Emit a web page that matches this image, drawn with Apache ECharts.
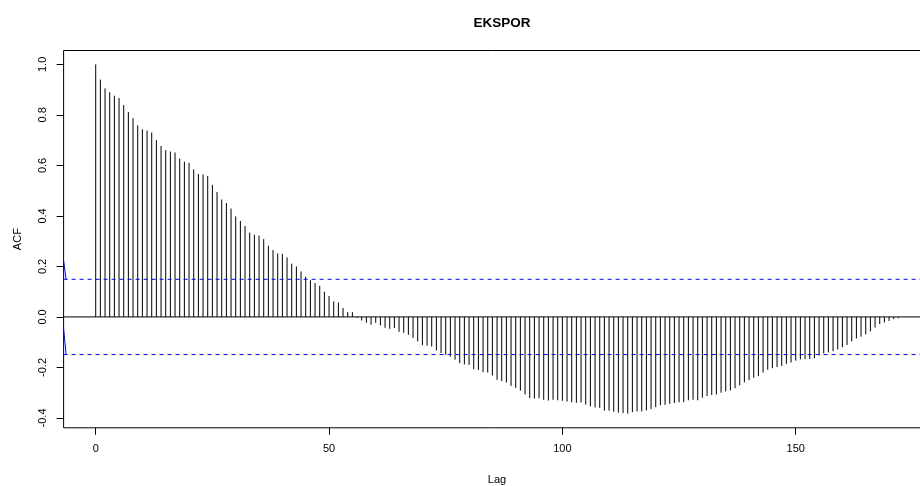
<!DOCTYPE html>
<html><head><meta charset="utf-8">
<script src="https://cdn.jsdelivr.net/npm/echarts@6/dist/echarts.min.js"></script>
<style>html,body{margin:0;padding:0;background:#fff}#c{width:920px;height:486px}</style>
</head><body><div id="c"></div>
<script>
const lags = [
0,1,2,3,4,5,6,7,8,9,10,11,12,13,14,15,16,17,18,19,
20,21,22,23,24,25,26,27,28,29,30,31,32,33,34,35,36,37,38,39,
40,41,42,43,44,45,46,47,48,49,50,51,52,53,54,55,56,57,58,59,
60,61,62,63,64,65,66,67,68,69,70,71,72,73,74,75,76,77,78,79,
80,81,82,83,84,85,86,87,88,89,90,91,92,93,94,95,96,97,98,99,
100,101,102,103,104,105,106,107,108,109,110,111,112,113,114,115,116,117,118,119,
120,121,122,123,124,125,126,127,128,129,130,131,132,133,134,135,136,137,138,139,
140,141,142,143,144,145,146,147,148,149,150,151,152,153,154,155,156,157,158,159,
160,161,162,163,164,165,166,167,168,169,170,171,172];
const acfValues = [
1.000,0.940,0.905,0.890,0.876,0.867,0.839,0.811,0.787,0.759,
0.743,0.738,0.730,0.700,0.677,0.660,0.655,0.651,0.627,0.615,
0.610,0.584,0.566,0.564,0.558,0.523,0.495,0.465,0.451,0.429,
0.398,0.380,0.360,0.334,0.325,0.322,0.308,0.282,0.265,0.251,
0.250,0.236,0.211,0.200,0.180,0.159,0.145,0.134,0.123,0.100,
0.083,0.061,0.057,0.035,0.019,0.019,-0.004,-0.014,-0.023,-0.031,
-0.023,-0.034,-0.043,-0.047,-0.044,-0.059,-0.063,-0.071,-0.083,-0.097,
-0.112,-0.114,-0.117,-0.133,-0.143,-0.150,-0.157,-0.169,-0.183,-0.188,
-0.190,-0.207,-0.210,-0.219,-0.220,-0.232,-0.249,-0.254,-0.260,-0.273,
-0.281,-0.292,-0.307,-0.321,-0.323,-0.322,-0.328,-0.331,-0.328,-0.330,
-0.332,-0.335,-0.338,-0.340,-0.339,-0.347,-0.354,-0.358,-0.360,-0.371,
-0.371,-0.375,-0.379,-0.381,-0.383,-0.377,-0.374,-0.374,-0.370,-0.365,
-0.357,-0.350,-0.348,-0.344,-0.341,-0.338,-0.337,-0.330,-0.328,-0.330,
-0.320,-0.313,-0.309,-0.307,-0.300,-0.295,-0.291,-0.282,-0.271,-0.259,
-0.250,-0.241,-0.234,-0.220,-0.209,-0.203,-0.198,-0.194,-0.186,-0.180,
-0.173,-0.168,-0.167,-0.167,-0.164,-0.152,-0.144,-0.140,-0.136,-0.129,
-0.120,-0.111,-0.097,-0.085,-0.078,-0.069,-0.057,-0.042,-0.028,-0.022,
-0.016,-0.009,-0.005];
const ciLimit = 0.149;
const ciLines = [ciLimit, -ciLimit];
const zeroLine = [0];
const xTicks = [0, 50, 100, 150];
const yTicks = [-0.4, -0.2, 0.0, 0.2, 0.4, 0.6, 0.8, 1.0];
const xRange = [-6.88, 178.88];
const yRange = [-0.439, 1.055];
const edgeUpper = [[-6.88, 0.223], [-6.35, 0.149]];
const edgeLower = [[-6.88, -0.045], [-6.35, -0.149]];

const FONT = 'Liberation Sans, Arial, sans-serif';
const chart = echarts.init(document.getElementById('c'), null, {renderer: 'canvas'});
const barData = lags.map((l, i) => [l, acfValues[i]]);

function hLineSeries(values, stroke, dash) {
  return {
    type: 'custom', silent: true, clip: true,
    data: values.map(v => [0, v]),
    encode: {x: 0, y: 1},
    renderItem: function (params, api) {
      const cs = params.coordSys;
      const y = api.coord([0, api.value(1)])[1];
      return {type: 'line', shape: {x1: cs.x, y1: y, x2: cs.x + cs.width, y2: y},
        style: {stroke: stroke, lineWidth: 1, lineDash: dash}};
    }
  };
}

chart.setOption({
  animation: false,
  backgroundColor: '#fff',
  title: {
    text: 'EKSPOR', left: 497, top: 11, textAlign: 'center',
    textStyle: {fontFamily: FONT, fontSize: 13.5, fontWeight: 'bold', color: '#000'}
  },
  grid: {
    left: 63.6, top: 50.5, width: 866.9, height: 377.3,
    outerBoundsMode: 'none', containLabel: false,
    show: true, borderColor: '#000', borderWidth: 1, backgroundColor: 'transparent'
  },
  xAxis: {
    type: 'value', min: xRange[0], max: xRange[1],
    name: 'Lag', nameLocation: 'middle', nameGap: 47,
    nameTextStyle: {fontFamily: FONT, fontSize: 11, color: '#000'},
    axisLine: {show: false, onZero: false},
    splitLine: {show: false},
    axisTick: {show: true, length: 7, inside: false, customValues: xTicks, lineStyle: {color: '#000', width: 1}},
    axisLabel: {show: true, customValues: xTicks, margin: 16, fontFamily: FONT, fontSize: 11, color: '#000',
      formatter: v => String(v)}
  },
  yAxis: {
    type: 'value', min: yRange[0], max: yRange[1],
    name: 'ACF', nameLocation: 'middle', nameGap: 40,
    nameTextStyle: {fontFamily: FONT, fontSize: 11, color: '#000'},
    axisLine: {show: false, onZero: false},
    splitLine: {show: false},
    axisTick: {show: true, length: 7, inside: false, customValues: yTicks, lineStyle: {color: '#000', width: 1}},
    axisLabel: {show: true, customValues: yTicks, rotate: 90, margin: 15, fontFamily: FONT, fontSize: 11, color: '#000',
      formatter: v => Number(v).toFixed(1)}
  },
  series: [
    {
      type: 'custom',
      data: barData,
      encode: {x: 0, y: 1},
      clip: true,
      z: 2,
      renderItem: function (params, api) {
        const x = api.value(0), y = api.value(1);
        const p0 = api.coord([x, 0]);
        const p1 = api.coord([x, y]);
        return {type: 'line', shape: {x1: p0[0], y1: p0[1], x2: p1[0], y2: p1[1]},
          style: {stroke: '#000', lineWidth: 1}};
      }
    },
    Object.assign(hLineSeries(zeroLine, '#000000', null), {z: 3}),
    Object.assign(hLineSeries(ciLines, '#0000ff', [4, 4]), {z: 4}),
    {type: 'line', data: edgeUpper, symbol: 'none', lineStyle: {color: '#0000ff', width: 1}, silent: true, clip: true, z: 4},
    {type: 'line', data: edgeLower, symbol: 'none', lineStyle: {color: '#0000ff', width: 1}, silent: true, clip: true, z: 4}
  ]
});
</script></body></html>
